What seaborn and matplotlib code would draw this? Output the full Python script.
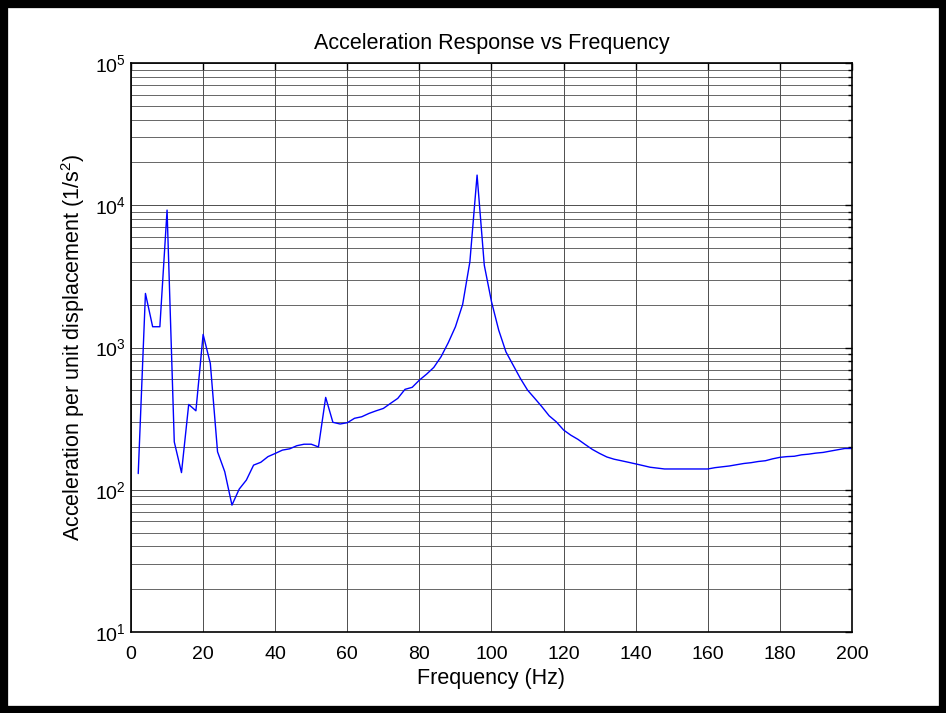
import numpy as np
import pandas as pd
import matplotlib
matplotlib.use("Agg")
import matplotlib.pyplot as plt
from matplotlib.patches import Rectangle
from matplotlib.ticker import LogLocator, FixedLocator
import seaborn as sns

# Frecuencias (Hz), paso de 2 Hz
frecuencias = list(range(2, 202, 2))

# Aceleracion por unidad de desplazamiento (1/s^2)
aceleracion = [
    130, 2400, 1400, 1400, 9250, 217, 132, 398, 359, 1236,
    773, 185, 134, 78, 101, 117, 149, 156, 171, 180,
    190, 194, 204, 209, 209, 200, 446, 298, 290, 296,
    318, 326, 344, 359, 373, 405, 439, 508, 525, 590,
    650, 725, 861, 1080, 1400, 2010, 4000, 16300, 3790, 2100,
    1325, 933, 752, 607, 502, 439, 383, 331, 300, 263,
    242, 226, 208, 192, 180, 170, 164, 160, 156, 152,
    148, 144, 142, 140, 140, 140, 140, 140, 140, 140,
    143, 145, 147, 150, 153, 155, 158, 160, 165, 169,
    171, 172, 176, 178, 181, 183, 187, 191, 195, 195,
]

x_ticks = [0, 20, 40, 60, 80, 100, 120, 140, 160, 180, 200]

df = pd.DataFrame({"freq": frecuencias, "acc": aceleracion})

sns.set_style("white")
plt.rcParams["font.family"] = ["Liberation Sans", "DejaVu Sans"]
plt.rcParams["mathtext.fontset"] = "custom"
plt.rcParams["mathtext.rm"] = "Liberation Sans"
plt.rcParams["mathtext.it"] = "Liberation Sans"
plt.rcParams["text.color"] = "black"
plt.rcParams["axes.labelcolor"] = "black"

fig = plt.figure(figsize=(9.46, 7.13), dpi=100)
ax = fig.add_axes([0.1385, 0.1136, 0.7621, 0.798])

sns.lineplot(data=df, x="freq", y="acc", ax=ax, color="#0000ff", linewidth=1.0)

ax.set_yscale("log")
ax.set_xlim(0, 200)
ax.set_ylim(10, 1e5)
ax.xaxis.set_major_locator(FixedLocator(x_ticks))
ax.yaxis.set_major_locator(LogLocator(base=10, numticks=10))
ax.yaxis.set_minor_locator(LogLocator(base=10, subs=np.arange(2, 10), numticks=10))

# cuadricula estilo MATLAB
ax.grid(True, which="major", axis="both", color="0.3", linewidth=0.7)
ax.grid(True, which="minor", axis="y", color="0.3", linewidth=0.6)

ax.tick_params(which="both", direction="in", top=True, right=True, labelsize=14, colors="black")
ax.tick_params(which="major", length=5, width=1)
ax.tick_params(which="minor", length=3, width=1)
ax.tick_params(axis="x", which="major", pad=10)
for s in ax.spines.values():
    s.set_color("black")
    s.set_linewidth(1.2)

ax.set_title("Acceleration Response vs Frequency", fontsize=15.5, pad=10, color="black")
ax.set_xlabel("Frequency (Hz)", fontsize=15.5, labelpad=4)
ax.set_ylabel("Acceleration per unit displacement (1/s$^2$)", fontsize=15.5, labelpad=6)

# marco negro alrededor de la figura
fig.add_artist(Rectangle((0, 0), 1, 1, transform=fig.transFigure, fill=False,
                         edgecolor="black", linewidth=11))

fig.savefig("out.png", dpi=100)
